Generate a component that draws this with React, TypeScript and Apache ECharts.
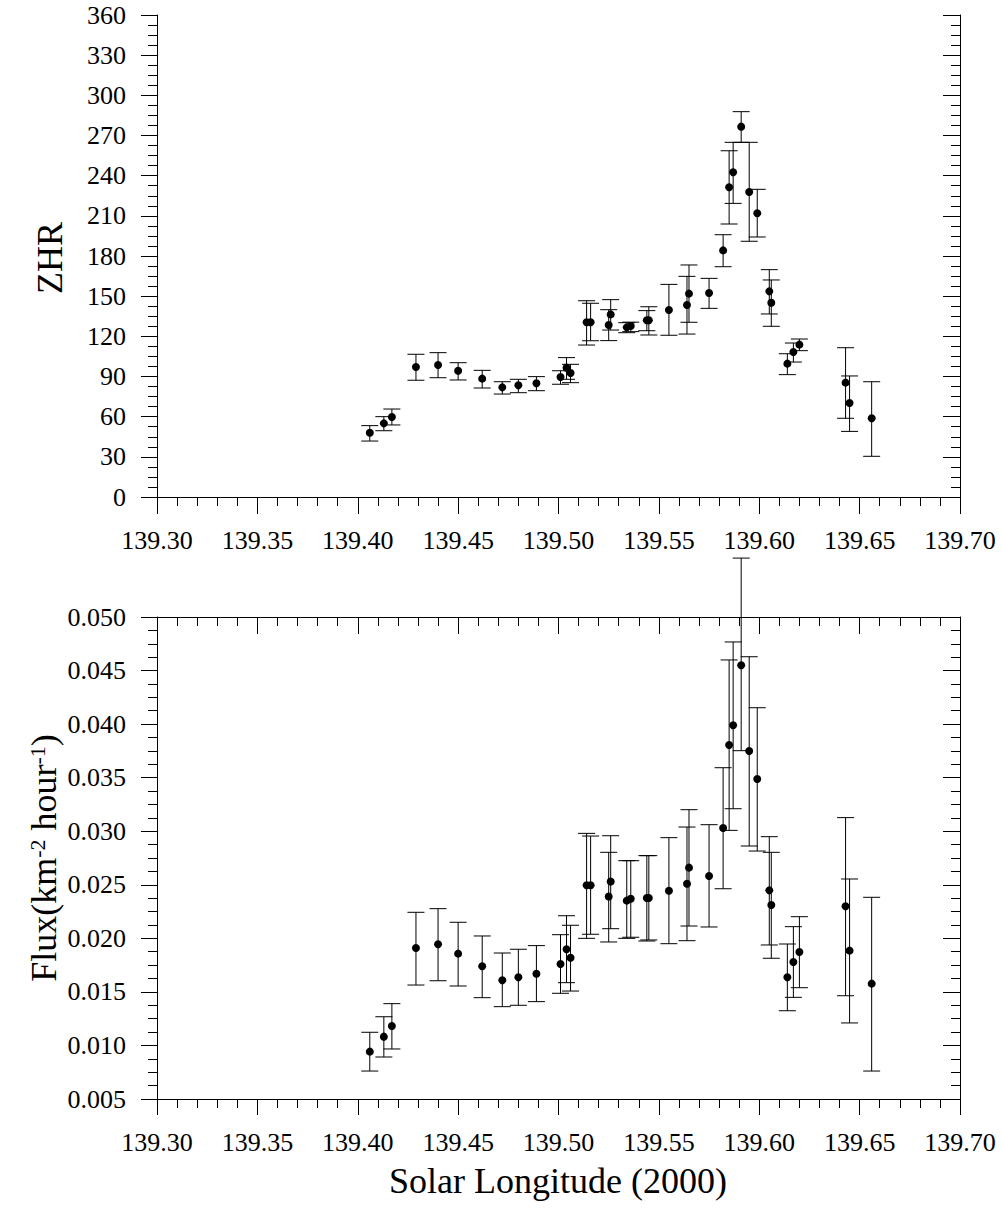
import React, { useEffect, useRef } from "react";
import * as echarts from "echarts";

// Solar longitude (J2000) of each observation interval
const solarLongitude = [
  139.406, 139.413, 139.417, 139.429, 139.44, 139.45, 139.462, 139.472, 139.48, 139.489,
  139.501, 139.504, 139.506, 139.514, 139.516, 139.525, 139.526, 139.534, 139.536, 139.544,
  139.545, 139.555, 139.564, 139.565, 139.575, 139.582, 139.585, 139.587, 139.591, 139.595,
  139.599, 139.605, 139.606, 139.614, 139.617, 139.62, 139.643, 139.645, 139.656,
];

const zhr = [
  48.0, 55.0, 59.8, 97.1, 98.6, 94.3, 88.4, 81.9, 83.4, 84.9,
  89.6, 96.6, 92.6, 130.5, 130.5, 128.5, 136.4, 126.7, 127.7, 132.0,
  132.0, 139.7, 143.4, 151.9, 152.4, 184.2, 231.3, 242.5, 276.6, 227.8,
  211.9, 153.6, 145.1, 99.6, 108.3, 113.8, 85.4, 70.2, 58.8,
];
const zhrHigh = [
  53.3, 60.0, 65.7, 106.6, 107.8, 100.3, 94.6, 86.1, 87.9, 89.9,
  94.3, 104.1, 99.1, 146.6, 144.7, 139.9, 147.4, 130.2, 130.6, 139.2,
  142.1, 158.8, 164.8, 173.3, 163.3, 195.9, 258.6, 264.9, 287.8, 264.9,
  229.8, 169.8, 162.1, 107.0, 115.0, 118.0, 111.5, 90.4, 86.1,
];
const zhrLow = [
  41.8, 49.5, 53.8, 87.2, 89.1, 87.4, 81.4, 76.9, 77.9, 79.4,
  84.2, 87.9, 85.4, 113.5, 116.7, 116.8, 124.7, 122.7, 123.5, 124.2,
  121.0, 120.8, 121.7, 130.5, 140.9, 172.0, 203.9, 219.3, 264.9, 191.0,
  194.2, 136.7, 127.5, 91.4, 100.8, 109.3, 58.8, 49.0, 30.4,
];

const flux = [
  0.00942, 0.01082, 0.01182, 0.0191, 0.01944, 0.01857, 0.01739, 0.01608, 0.01636, 0.0167,
  0.0176, 0.01898, 0.01819, 0.02495, 0.02495, 0.0239, 0.0253, 0.02352, 0.0237, 0.02377,
  0.02377, 0.02445, 0.0251, 0.0266, 0.02582, 0.0303, 0.03805, 0.03989, 0.04549, 0.03749,
  0.03488, 0.02448, 0.02311, 0.01636, 0.01779, 0.01872, 0.02299, 0.01885, 0.01577,
];
const fluxHigh = [
  0.01123, 0.01268, 0.0139, 0.02243, 0.02277, 0.0215, 0.02022, 0.01863, 0.01898, 0.01932,
  0.02034, 0.02211, 0.02122, 0.0298, 0.02955, 0.02803, 0.02958, 0.02725, 0.02725, 0.02772,
  0.02772, 0.0294, 0.03039, 0.03201, 0.03061, 0.03593, 0.04599, 0.04767, 0.0555, 0.04629,
  0.04153, 0.02949, 0.02803, 0.01947, 0.02109, 0.02202, 0.03127, 0.02554, 0.02383,
];
const fluxLow = [
  0.00761, 0.00892, 0.00967, 0.01564, 0.01604, 0.01555, 0.01446, 0.01362, 0.01375, 0.01409,
  0.01487, 0.01586, 0.01508, 0.02, 0.02038, 0.01966, 0.0209, 0.02, 0.0201, 0.01975,
  0.01985, 0.0195, 0.01978, 0.02115, 0.02106, 0.02463, 0.03008, 0.0321, 0.03752, 0.02862,
  0.02815, 0.01938, 0.01814, 0.01324, 0.01449, 0.01539, 0.01464, 0.0121, 0.00761,
];

const FONT = "Liberation Serif";

export default function App() {
  const ref = useRef<HTMLDivElement>(null);

  useEffect(() => {
    if (!ref.current) return;
    const chart = echarts.init(ref.current, undefined, { renderer: "svg" });

    const axisLine = { show: true, lineStyle: { color: "#000", width: 1 } };
    const tickOut = { show: true, inside: false, length: 16, lineStyle: { color: "#000", width: 1 } };
    const tickIn = { show: true, inside: true, length: 17, lineStyle: { color: "#000", width: 1 } };
    const minor = (n: number) => ({ show: true, splitNumber: n, length: 9, lineStyle: { color: "#000", width: 1 } });
    const richLabel = { v: { fontFamily: FONT, fontSize: 26, color: "#000", lineHeight: 26 } };
    const labelStyle = { color: "#000", fontFamily: FONT, fontSize: 26, rich: richLabel };

    const xBase = { type: "value", min: 139.3, max: 139.7, interval: 0.05, splitLine: { show: false }, axisLine };

    const xAxes = [0, 1].flatMap((g) => [
      {
        ...xBase,
        gridIndex: g,
        position: "bottom",
        axisTick: tickOut,
        minorTick: minor(5),
        axisLabel: {
          ...labelStyle,
          margin: 30,
          formatter: (v: number) => `{v|${v.toFixed(2)}}`,
          showMinLabel: true,
          showMaxLabel: true,
        },
      },
      {
        ...xBase,
        gridIndex: g,
        position: "top",
        axisTick: tickIn,
        minorTick: minor(5),
        axisLabel: { show: false },
      },
    ]);

    const yDefs = [
      { min: 0, max: 360, interval: 30, fmt: (v: number) => `{v|${Math.round(v)}}` },
      { min: 0.005, max: 0.05, interval: 0.005, fmt: (v: number) => `{v|${v.toFixed(3)}}` },
    ];
    const yAxes = yDefs.flatMap((d, g) => [
      {
        type: "value",
        gridIndex: g,
        position: "left",
        min: d.min,
        max: d.max,
        interval: d.interval,
        splitLine: { show: false },
        axisLine,
        axisTick: tickOut,
        minorTick: minor(4),
        axisLabel: { ...labelStyle, margin: 31, formatter: d.fmt, showMinLabel: true, showMaxLabel: true },
      },
      {
        type: "value",
        gridIndex: g,
        position: "right",
        min: d.min,
        max: d.max,
        interval: d.interval,
        splitLine: { show: false },
        axisLine,
        axisTick: tickIn,
        minorTick: minor(4),
        axisLabel: { show: false },
      },
    ]);

    const errRender = (params: any, api: any) => {
      const x = api.value(0);
      const top = api.coord([x, api.value(1)]);
      const bot = api.coord([x, api.value(2)]);
      const w = 8.5;
      const style = { stroke: "#000", lineWidth: 1 };
      return {
        type: "group",
        children: [
          { type: "line", shape: { x1: top[0], y1: top[1], x2: bot[0], y2: bot[1] }, style },
          { type: "line", shape: { x1: top[0] - w, y1: top[1], x2: top[0] + w, y2: top[1] }, style },
          { type: "line", shape: { x1: bot[0] - w, y1: bot[1], x2: bot[0] + w, y2: bot[1] }, style },
        ],
      };
    };

    const zhrErr = solarLongitude.map((x, i) => [x, zhrHigh[i], zhrLow[i]]);
    const fluxErr = solarLongitude.map((x, i) => [x, fluxHigh[i], fluxLow[i]]);
    const zhrPts = solarLongitude.map((x, i) => [x, zhr[i]]);
    const fluxPts = solarLongitude.map((x, i) => [x, flux[i]]);

    const dot = { color: "#000", opacity: 1 };

    chart.setOption({
      animation: false,
      backgroundColor: "#fff",
      textStyle: { fontFamily: FONT, color: "#000", fontSize: 26 },
      grid: [
        { left: 157, top: 15, width: 803, height: 482 },
        { left: 157, top: 617, width: 803, height: 482 },
      ],
      xAxis: xAxes,
      yAxis: yAxes,
      series: [
        { type: "custom", xAxisIndex: 0, yAxisIndex: 0, renderItem: errRender, data: zhrErr, encode: { x: 0, y: [1, 2] }, clip: false, z: 2 },
        { type: "scatter", xAxisIndex: 0, yAxisIndex: 0, data: zhrPts, symbol: "circle", symbolSize: 8, itemStyle: dot, z: 3 },
        { type: "custom", xAxisIndex: 2, yAxisIndex: 2, renderItem: errRender, data: fluxErr, encode: { x: 0, y: [1, 2] }, clip: false, z: 2 },
        { type: "scatter", xAxisIndex: 2, yAxisIndex: 2, data: fluxPts, symbol: "circle", symbolSize: 8, itemStyle: dot, z: 3 },
      ],
      graphic: [
        {
          type: "text",
          x: 50,
          y: 258,
          rotation: Math.PI / 2,
          style: { text: "ZHR", fontFamily: FONT, fontSize: 36, fill: "#000", align: "center", verticalAlign: "middle" },
        },
        {
          type: "text",
          x: 44,
          y: 858,
          rotation: Math.PI / 2,
          style: {
            text: "{a|Flux(km}{s|-2}{a| hour}{s|-1}{a|)}",
            fill: "#000",
            align: "center",
            verticalAlign: "middle",
            rich: {
              a: { fontFamily: FONT, fontSize: 36, lineHeight: 36, verticalAlign: "bottom", fill: "#000" },
              s: { fontFamily: FONT, fontSize: 22, lineHeight: 22, verticalAlign: "top", fill: "#000" },
            },
          },
        },
        {
          type: "text",
          x: 558,
          y: 1181,
          style: { text: "Solar Longitude (2000)", fontFamily: FONT, fontSize: 36, fill: "#000", align: "center", verticalAlign: "middle" },
        },
      ],
    });

    return () => chart.dispose();
  }, []);

  return <div ref={ref} style={{ position: "absolute", left: 0, top: 0, width: 1002, height: 1215 }} />;
}
